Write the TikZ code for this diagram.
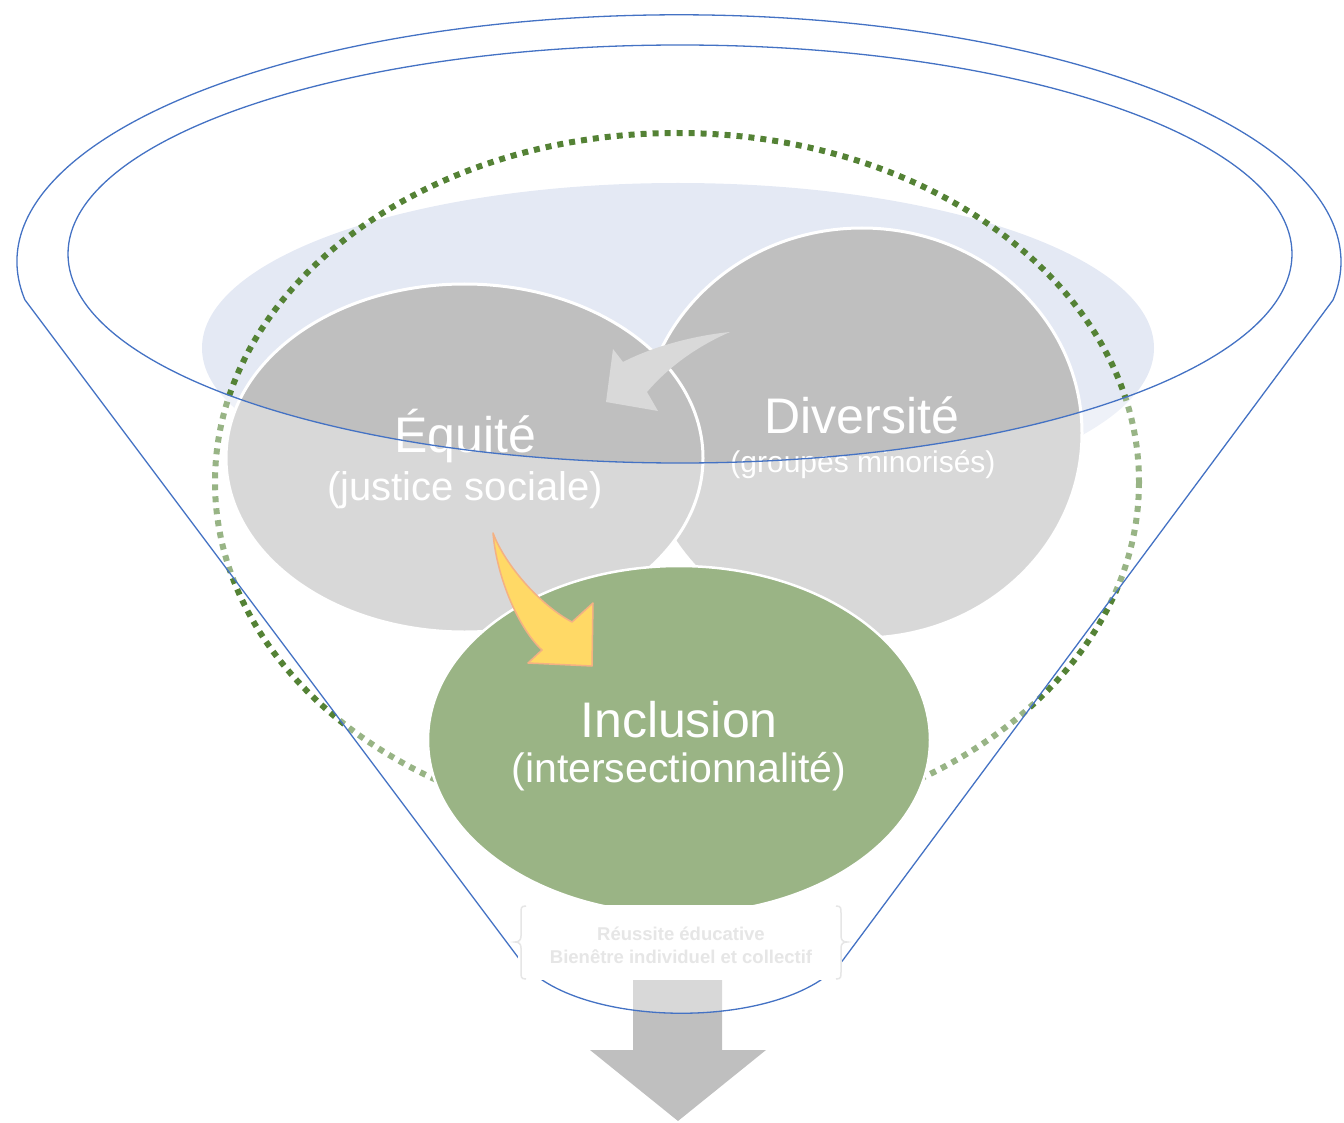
\documentclass[tikz,border=0pt]{standalone}
\usepackage{fontspec}
\setmainfont{Liberation Sans}
\definecolor{funnelblue}{HTML}{4472C4}
\definecolor{paleblue}{HTML}{E4E9F4}
\definecolor{dotgreen}{HTML}{548235}
\definecolor{circgray}{HTML}{BFBFBF}
\definecolor{lightgray}{HTML}{D9D9D9}
\definecolor{incgreen}{HTML}{9AB485}
\definecolor{arrowyellow}{HTML}{FFD966}
\definecolor{arroworange}{HTML}{F4B183}
\definecolor{faintgray}{HTML}{E6E6E6}
\begin{document}
\begin{tikzpicture}[x=1pt,y=-1pt,
  bubble/.style={fill=circgray, draw=white, line width=3pt},
  funnelline/.style={draw=funnelblue, line width=1.3pt},
  bigtext/.style={text=white, font=\fontsize{50}{60}\selectfont, anchor=base, inner sep=0pt},
  subtext/.style={text=white, anchor=base, inner sep=0pt},
  boxtext/.style={text=faintgray, font=\fontsize{18.5}{22}\selectfont\bfseries, anchor=base, inner sep=0pt},
  bracestyle/.style={draw=faintgray, line width=1.5pt}]
\useasboundingbox (0,0) rectangle (1344,1123);
% pale blue backdrop
\fill[paleblue] (678,348) ellipse [x radius=476, y radius=165];
% dotted green ellipse
\draw[dotgreen, line width=6pt, dash pattern=on 6pt off 6pt] (677,482) ellipse [x radius=462, y radius=349];
% circles
\path[bubble] (862,433) ellipse [x radius=220, y radius=205];
\path[bubble] (464.5,458) ellipse [x radius=238.5, y radius=174];
% grey curved arrow
\fill[lightgray] (730,332) .. controls (690,336) and (650,348) .. (623,362) -- (613,349) -- (606,402) -- (658,411) -- (647,392) .. controls (670,365) and (700,345) .. cycle;
% bottom grey arrow
\fill[circgray] (633,980) -- (722,980) -- (722,1050) -- (766,1050) -- (678,1121) -- (590,1050) -- (633,1050) -- cycle;
% funnel body veil
\fill[white, fill opacity=0.4, even odd rule] (25,300) arc[start angle=171.1, end angle=368.9, x radius=662, y radius=247] -- (843,960) .. controls (788,1031) and (575,1031) .. (520,960) -- cycle (680,254) ellipse [x radius=612, y radius=209];
% inclusion circle
\path[fill=incgreen, draw=white, line width=2.5pt] (679,740) ellipse [x radius=251, y radius=174];
% yellow arrow
\filldraw[fill=arrowyellow, draw=arroworange, line width=1.5pt, line join=round] (493,533) .. controls (505,565) and (540,605) .. (572,622) -- (593,603) -- (592,666) -- (528,663) -- (542,650) .. controls (520,630) and (497,580) .. cycle;
% texts
\node[bigtext] (equite) at (465,452) {Équité};
\node[subtext, font=\fontsize{40}{48}\selectfont] (justice) at (465,500) {(justice sociale)};
\node[bigtext] (diversite) at (862,433) {Diversité};
\node[subtext, font=\fontsize{30}{36}\selectfont] (groupes) at (863,472) {(groupes minorisés)};
\node[bigtext] (inclusion) at (679,737) {Inclusion};
\node[subtext, font=\fontsize{41}{49}\selectfont] (intersect) at (679,782) {(intersectionnalité)};
% funnel outlines
\path[funnelline] (25,300) arc[start angle=171.1, end angle=368.9, x radius=662, y radius=247] -- (843,960) .. controls (788,1031) and (575,1031) .. (520,960) -- cycle;
\path[funnelline] (680,254) ellipse [x radius=612, y radius=209];
% result box
\fill[white] (518,905) rectangle (842,980);
\path[bracestyle] (526,906) .. controls (521,906) and (521,908) .. (521,913) -- (521,936) .. controls (521,940) and (519,942) .. (515,942) .. controls (519,942) and (521,944) .. (521,948) -- (521,972) .. controls (521,977) and (521,979) .. (526,979);
\path[bracestyle] (836,906) .. controls (841,906) and (841,908) .. (841,913) -- (841,936) .. controls (841,940) and (843,942) .. (847,942) .. controls (843,942) and (841,944) .. (841,948) -- (841,972) .. controls (841,977) and (841,979) .. (836,979);
\node[boxtext] (reussite) at (681,940) {Réussite éducative};
\node[boxtext] (bienetre) at (681,963) {Bienêtre individuel et collectif};
\end{tikzpicture}
\end{document}
